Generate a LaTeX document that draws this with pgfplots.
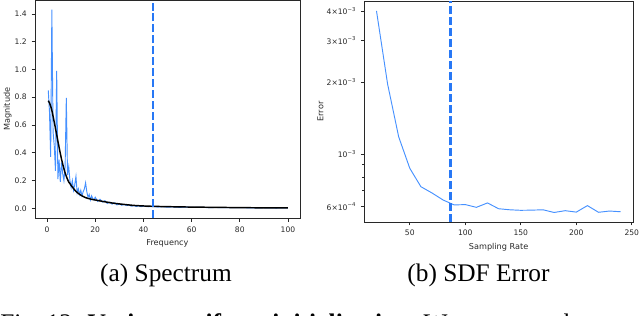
\documentclass[border=0pt]{standalone}
\usepackage{fontspec}
\setmainfont{Liberation Serif}
\newfontfamily\dejavu{DejaVu Sans}
\usepackage{pgfplots}
\pgfplotsset{compat=1.18}
\definecolor{lineblue}{RGB}{70,145,255}
\definecolor{dashblue}{RGB}{40,120,245}
\definecolor{frame}{RGB}{40,40,40}
\pgfplotsset{mplstyle/.style={
  scale only axis,
  axis line style={frame, line width=0.6pt},
  every tick/.style={frame, line width=0.5pt},
  tick align=outside,
  major tick length=2.6pt,
  minor tick length=1.5pt,
  xtick pos=left, ytick pos=left,
  ticklabel style={font=\dejavu\fontsize{5.7}{6.5}\selectfont, text=frame},
  label style={font=\dejavu\fontsize{6.1}{7}\selectfont, text=frame},
  every axis x label/.append style={yshift=1.3pt},
  every axis y label/.append style={yshift=-4.5pt},
  /pgf/number format/assume math mode=true,
}}
\begin{document}
\begin{tikzpicture}
\useasboundingbox (0,0) rectangle (480pt,237pt);
% ---------- (a) Spectrum ----------
\begin{axis}[mplstyle, at={(26.25pt,73.3pt)}, anchor=south west,
  width=198.75pt, height=163.7pt,
  xmin=-5, xmax=105, ymin=-0.0715, ymax=1.5,
  xtick={0,20,40,60,80,100},
  ytick={0,0.2,0.4,0.6,0.8,1.0,1.2,1.4},
  yticklabel style={/pgf/number format/.cd, fixed, fixed zerofill, precision=1},
  xlabel={Frequency}, ylabel={Magnitude}]
\addplot[lineblue, line width=0.7pt] table {
x y
0.5 0.85
1.0 0.70
1.5 0.37
2.0 1.43
2.5 0.55
3.0 0.45
3.5 0.27
4.0 0.99
4.5 0.21
5.0 0.35
5.5 0.19
6.0 0.33
6.5 0.25
7.0 0.20
7.5 0.30
8.0 0.795
8.5 0.24
9.0 0.30
9.5 0.20
10.0 0.15
10.5 0.20
11.0 0.13
11.5 0.17
12.0 0.23
12.5 0.11
13.0 0.14
13.5 0.10
14.0 0.13
14.5 0.09
15.0 0.12
15.5 0.14
16.0 0.184
16.5 0.12
17.0 0.08
17.5 0.10
18.0 0.06
18.5 0.09
19.0 0.07
19.5 0.06
20.0 0.08
21 0.05
22 0.065
23 0.045
24 0.055
25 0.035
26 0.045
27 0.03
28 0.04
29 0.025
30 0.032
31 0.022
32 0.028
33 0.02
34 0.025
35 0.015
36 0.02
37 0.013
38 0.018
39 0.012
40 0.016
42 0.011
44 0.014
46 0.009
48 0.012
50 0.008
52 0.01
55 0.007
58 0.009
61 0.006
64 0.007
67 0.005
70 0.006
75 0.004
80 0.005
85 0.003
90 0.004
95 0.002
100 0.003
};
\addplot[black, line width=1.1pt, smooth] table {
x y
0.5 0.775
1 0.76
1.5 0.735
2 0.705
3 0.62
4 0.53
5 0.44
6 0.355
7 0.285
8 0.23
9 0.19
10 0.165
12 0.122
14 0.095
16 0.077
18 0.067
20 0.06
24 0.047
28 0.036
32 0.028
36 0.021
40 0.017
45 0.014
50 0.012
60 0.009
70 0.007
80 0.005
90 0.0035
100 0.0025
};
\addplot[dashblue, line width=1.9pt, dash pattern=on 6pt off 2.2pt] coordinates {(44,-0.0715) (44,1.5)};
\end{axis}
% ---------- (b) SDF Error ----------
\begin{axis}[mplstyle, ymode=log, at={(273.2pt,70.5pt)}, anchor=south west,
  width=201.5pt, height=165.75pt,
  xmin=9, xmax=251, ymin=5.17e-4, ymax=4.4e-3,
  xtick={50,100,150,200,250},
  ytick={6e-4,1e-3,2e-3,3e-3,4e-3},
  yticklabels={6×10\textsuperscript{−4},10\textsuperscript{−3},2×10\textsuperscript{−3},3×10\textsuperscript{−3},4×10\textsuperscript{−3}},
  minor ytick={7e-4,8e-4,9e-4},
  xlabel={Sampling Rate}, ylabel={Error}]
\addplot[lineblue, line width=0.7pt] table {
x y
20 4.0e-3
30 1.97e-3
40 1.18e-3
50 8.7e-4
60 7.28e-4
70 6.85e-4
80 6.4e-4
90 6.1e-4
100 6.12e-4
110 5.96e-4
120 6.22e-4
130 5.88e-4
140 5.82e-4
150 5.79e-4
160 5.8e-4
170 5.82e-4
180 5.67e-4
190 5.77e-4
200 5.69e-4
210 6.06e-4
220 5.68e-4
230 5.75e-4
240 5.71e-4
};
\addplot[dashblue, line width=1.9pt, dash pattern=on 6pt off 2.2pt] coordinates {(86.5,5.17e-4) (86.5,4.4e-3)};
\end{axis}
% ---------- captions ----------
\node[font=\fontsize{19}{22}\selectfont] at (124.5pt,30.6pt) {(a) Spectrum};
\node[font=\fontsize{19}{22}\selectfont] at (358.9pt,30.6pt) {(b) SDF Error};
\node[font=\fontsize{19}{22}\selectfont, anchor=base west, inner sep=0pt] at (0pt,-11.5pt) {Fig.~12: \textbf{Various uniform initialization.} We compare the};
\end{tikzpicture}
\end{document}
